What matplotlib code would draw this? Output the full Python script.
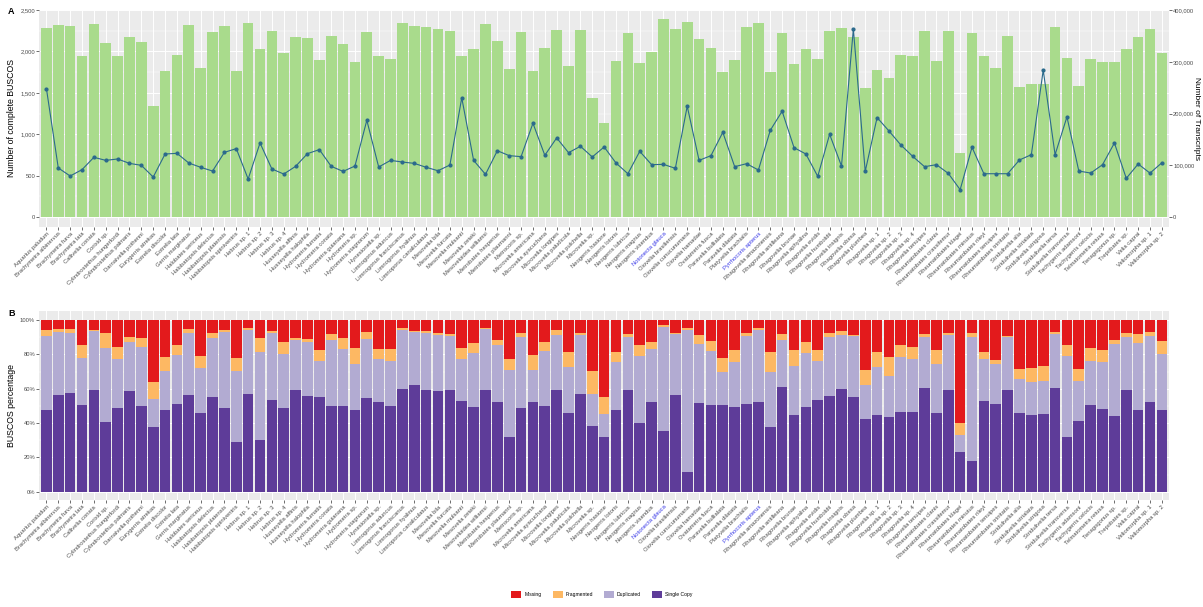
import numpy as np
import matplotlib.pyplot as plt
from matplotlib.patches import Patch
from matplotlib.ticker import FuncFormatter

# species (x categories)
species = [
    "Aquarius paludum", "Brachymetra albinervus", "Brachymetra furva", "Brachymetra lata",
    "Callivelia conata", "Corixid sp.", "Cylindrostethus hungerfordi", "Cylindrostethus palmaris",
    "Darnaivelia pothenni", "Eurygerris atrekas", "Eotrelia discolor", "Eotrelia lata",
    "Gerris marginatus", "Halobates sericeus", "Halobatopsis delectus", "Halobatopsis platensis",
    "Halobatopsis spiniventris", "Hebrus sp. 1", "Hebrus sp. 2", "Hebrus sp. 3", "Hebrus sp. 4",
    "Husseyella affinis", "Husseyella halophila", "Hydrometra fumatis", "Hydrometra conata",
    "Hydrometra guianana", "Hydrometra sp.", "Hydrometra stagnorum", "Hynesionella sp.",
    "Limnogonus aduncus", "Limnogonus franciscanus", "Limnogonus hyalinus",
    "Limnoporus canaliculatus", "Mesovelia bila", "Mesovelia furcata", "Mesovelia mulsanti",
    "Mesovelia zeteki", "Mesoveloidea williamsi", "Metrobates hesperius", "Metrobates plaumanni",
    "Metrocoris sp.", "Microvelia americana", "Microvelia ayacuchana", "Microvelia longipes",
    "Microvelia paludicola", "Microvelia pulchella", "Microvelia sp.", "Neogerris hasione",
    "Neogerris lotoris", "Neogerris lubricus", "Neogerris magnus", "Neogerris visendus",
    "Notonecta glauca", "Oiovelia brasiliensis", "Oiovelia cunucunumana", "Oiovelia hamadae",
    "Ovatametra fusca", "Paravelia bullialata", "Paravelia dilatata", "Platyvelia brachialis",
    "Pyrrhocoris apterus", "Rhagovelia amazonensis", "Rhagovelia antilleana", "Rhagovelia brunae",
    "Rhagovelia aphyalina", "Rhagovelia evidis", "Rhagovelia humboldti", "Rhagovelia insignis",
    "Rhagovelia obesa", "Rhagovelia plumbea", "Rhagovelia sp. 1", "Rhagovelia sp. 2",
    "Rhagovelia sp. 3", "Rhagovelia sp. 4", "Rhagovelia tenuipes", "Rheumatobates clanis",
    "Rheumatobates crassifemur", "Rheumatobates klagei", "Rheumatobates minutus",
    "Rheumatobates rileyi", "Rheumatobates tenuipes", "Rheumatobates trinitatis",
    "Stridulivelia alia", "Stridulivelia strialata", "Stridulivelia strigosa", "Stridulivelia tersa",
    "Stridulivelia transversa", "Tachygerris adamsoni", "Tachygerris celocis",
    "Telmatometra retusa", "Tenagogonus sp.", "Trepobates sp.", "Velia caprai",
    "Veliomorpha sp. 1", "Veliomorpha sp. 2",
]
outgroups = ["Notonecta glauca", "Pyrrhocoris apterus"]

# number of complete BUSCOs
buscos = [
    2278, 2318, 2306, 1948, 2331, 2097, 1944, 2169, 2113, 1339, 1762, 1956, 2315, 1806, 2238,
    2306, 1766, 2347, 2032, 2246, 1980, 2173, 2157, 1895, 2190, 2089, 1867, 2230, 1940, 1907,
    2347, 2302, 2290, 2266, 2246, 1948, 2024, 2335, 2121, 1786, 2238, 1762, 2044, 2262, 1823,
    2262, 1440, 1141, 1883, 2226, 1855, 1988, 2387, 2274, 2355, 2149, 2036, 1750, 1895, 2298,
    2347, 1750, 2226, 1843, 2028, 1903, 2250, 2278, 2177, 1556, 1782, 1685, 1956, 1944, 2250,
    1883, 2246, 774, 2226, 1944, 1806, 2190, 1565, 1605, 1613, 2290, 1919, 1581, 1911, 1867,
    1867, 2028, 2177, 2266, 1980,
]

# number of transcripts
transcripts = [
    248300, 94900, 79400, 91700, 115500, 109600, 112300, 103800, 100000, 77400, 121900, 123200,
    104500, 96200, 89000, 125100, 132300, 73600, 143200, 93000, 83200, 98100, 122600, 130400,
    98100, 88300, 98700, 187000, 96800, 109600, 106400, 103800, 96200, 89600, 100600, 230400,
    109600, 82600, 128300, 118700, 116800, 181300, 119400, 153000, 124500, 136800, 116200,
    135500, 104500, 83800, 127000, 101300, 101900, 94200, 214200, 109600, 118700, 163800,
    97400, 103200, 91000, 167700, 204500, 134200, 121900, 78700, 160000, 98700, 363200, 88300,
    192300, 166400, 139400, 117400, 97400, 101300, 84500, 53000, 134900, 83800, 83800, 83800,
    110400, 120600, 283800, 120600, 193600, 89000, 85100, 101300, 143200, 74900, 102600,
    85000, 105000,
]

# BUSCO percentages
single = [
    47.5, 56.6, 57.7, 50.4, 59.1, 40.6, 49.0, 58.5, 49.9, 37.4, 47.6, 51.1, 56.5, 45.9, 54.9,
    48.8, 28.9, 57.0, 30.1, 53.3, 48.6, 59.0, 55.5, 55.1, 50.0, 50.0, 47.3, 54.5, 52.5, 50.2,
    60.0, 61.9, 59.0, 58.4, 59.4, 52.7, 49.6, 59.0, 52.3, 31.6, 48.6, 52.3, 50.0, 59.0, 45.7,
    56.8, 38.5, 31.6, 47.3, 59.4, 39.8, 52.1, 35.5, 56.3, 11.5, 51.6, 50.6, 50.6, 49.2, 51.2,
    52.1, 37.9, 60.9, 44.7, 49.2, 53.5, 55.7, 60.0, 55.1, 42.4, 44.7, 43.4, 46.7, 46.5, 60.2,
    45.7, 59.4, 23.0, 18.0, 53.1, 51.2, 59.4, 45.7, 44.9, 45.3, 60.5, 31.6, 41.4, 50.6, 48.2,
    44.3, 59.0, 47.7, 52.5, 47.8,
]
duplicated = [
    43.4, 36.5, 34.5, 27.2, 34.2, 42.8, 28.3, 28.4, 34.6, 16.6, 22.8, 28.5, 36.1, 26.2, 34.8,
    44.3, 41.2, 37.1, 51.4, 39.3, 31.6, 29.3, 31.6, 20.9, 38.3, 33.2, 27.3, 34.6, 24.6, 26.2,
    34.1, 30.9, 33.6, 33.0, 31.3, 24.8, 31.3, 35.5, 33.0, 39.5, 41.6, 18.4, 32.0, 32.2, 27.0,
    34.2, 18.6, 13.7, 28.3, 30.5, 39.1, 31.2, 60.2, 35.4, 82.6, 34.4, 31.2, 19.3, 26.4, 39.6,
    42.0, 31.8, 27.7, 28.7, 31.8, 22.7, 34.6, 31.4, 35.5, 19.5, 27.9, 23.8, 31.8, 30.5, 29.7,
    28.9, 31.6, 10.0, 71.9, 24.2, 23.0, 30.5, 20.1, 18.9, 18.9, 31.1, 47.3, 22.9, 25.6, 27.3,
    41.6, 31.2, 38.7, 38.0, 32.2,
]
fragmented = [
    3.0, 1.5, 2.4, 7.7, 0.9, 9.2, 7.0, 3.3, 5.3, 10.1, 7.8, 5.8, 2.0, 7.2, 2.5, 1.0, 8.0, 1.0,
    7.8, 1.2, 6.8, 1.4, 2.0, 6.4, 3.5, 6.6, 9.2, 3.9, 5.9, 6.6, 1.0, 0.8, 0.8, 0.8, 1.0, 5.9,
    5.9, 1.0, 2.9, 6.4, 2.0, 8.8, 5.1, 2.7, 8.6, 1.2, 13.3, 9.8, 5.9, 1.8, 6.4, 4.1, 1.4, 1.0,
    1.0, 5.3, 5.7, 8.0, 7.2, 1.4, 1.0, 11.7, 3.3, 9.0, 6.1, 6.2, 2.0, 2.0, 0.6, 9.2, 8.8, 11.3,
    7.0, 7.0, 2.0, 8.2, 1.2, 7.0, 2.3, 4.3, 2.3, 1.0, 5.9, 8.2, 8.8, 1.6, 6.4, 7.4, 7.2, 6.8,
    2.7, 2.0, 5.5, 2.5, 7.5,
]
missing = [
    6.1, 5.4, 5.4, 14.7, 5.8, 7.4, 15.7, 9.8, 10.2, 35.9, 21.8, 14.6, 5.4, 20.7, 7.8, 5.9, 21.9,
    4.9, 10.7, 6.2, 13.0, 10.3, 10.9, 17.6, 8.2, 10.2, 16.2, 7.0, 17.0, 17.0, 4.9, 6.4, 6.6,
    7.8, 8.3, 16.6, 13.2, 4.5, 11.8, 22.5, 7.8, 20.5, 12.9, 6.1, 18.7, 7.8, 29.6, 44.9, 18.5,
    8.3, 14.7, 12.6, 2.9, 7.3, 4.9, 8.7, 12.5, 22.1, 17.2, 7.8, 4.9, 18.6, 8.1, 17.6, 12.9,
    17.6, 7.7, 6.6, 8.8, 28.9, 18.6, 21.5, 14.5, 16.0, 8.1, 17.2, 7.8, 60.0, 7.8, 18.4, 23.5,
    9.1, 28.3, 28.0, 27.0, 6.8, 14.7, 28.3, 16.6, 17.7, 11.4, 7.8, 8.1, 7.0, 12.5,
]

plt.rcParams['font.family'] = ['Liberation Sans', 'DejaVu Sans']

green = '#A9DB8C'
line_col = '#2B6A8C'
cols = {'Missing': '#E31A1C', 'Fragmented': '#FDB863',
        'Duplicated': '#B2ABD2', 'Single Copy': '#5E3C99'}
txt = '#4D4D4D'

W, H = 1203, 607
fig = plt.figure(figsize=(W / 100, H / 100), dpi=100)
left, right = 39.3, 1169
axA = fig.add_axes([left / W, 1 - 227 / H, (right - left) / W, (227 - 9.5) / H])
axB = fig.add_axes([left / W, 1 - 500.3 / H, (right - left) / W, (500.3 - 311.4) / H])

x = np.arange(len(species))


def gg_style(ax):
    ax.set_facecolor('#EBEBEB')
    for s in ax.spines.values():
        s.set_visible(False)
    ax.set_axisbelow(True)
    ax.grid(which='major', color='white', linewidth=0.7)
    ax.grid(which='minor', axis='y', color='white', linewidth=0.35)
    ax.tick_params(which='major', length=2, width=0.5, color='#333333',
                   labelcolor=txt, labelsize=4.2, pad=1)
    ax.tick_params(which='minor', length=0)
    ax.set_xlim(-0.6, len(species) - 0.4)
    ax.set_xticks(x)
    ax.set_xticklabels(species, rotation=45, ha='right', va='top',
                       rotation_mode='anchor', fontsize=4.2)
    for lab in ax.get_xticklabels():
        if lab.get_text() in outgroups:
            lab.set_color('#3A3AE8')


# panel A
gg_style(axA)
ylo, yhi = -0.05 * max(buscos), 1.05 * max(buscos)
axA.set_ylim(ylo, yhi)
axA.bar(x, buscos, width=0.9, color=green, zorder=2)
axA.set_yticks([0, 500, 1000, 1500, 2000, 2500])
axA.set_yticks([250, 750, 1250, 1750, 2250], minor=True)
axA.yaxis.set_major_formatter(FuncFormatter(lambda v, p: f"{int(v):,}"))
axA.set_ylabel("Number of complete BUSCOS", fontsize=6.3, color='black', labelpad=3)

ax2 = axA.twinx()
ax2.set_ylim(ylo * 160, yhi * 160)
for s in ax2.spines.values():
    s.set_visible(False)
ax2.plot(x, transcripts, color=line_col, linewidth=0.8, marker='o', markersize=2, zorder=3)
ax2.set_yticks([0, 100000, 200000, 300000, 400000])
ax2.yaxis.set_major_formatter(FuncFormatter(lambda v, p: f"{int(v):,}"))
ax2.tick_params(length=2, width=0.5, color='#333333', labelcolor=txt, labelsize=4.2, pad=1)
ax2.set_ylabel("Number of Transcripts", fontsize=6, color='black', rotation=270, labelpad=4)

# panel B
gg_style(axB)
axB.set_ylim(-5, 105)
bottom = np.zeros(len(species))
for name, vals in [('Single Copy', single), ('Duplicated', duplicated),
                   ('Fragmented', fragmented), ('Missing', missing)]:
    axB.bar(x, vals, bottom=bottom, width=0.9, color=cols[name], zorder=2)
    bottom += np.array(vals)
axB.set_yticks([0, 20, 40, 60, 80, 100])
axB.set_yticks([10, 30, 50, 70, 90], minor=True)
axB.yaxis.set_major_formatter(FuncFormatter(lambda v, p: f"{int(v)}%"))
axB.set_ylabel("BUSCOS percentage", fontsize=6.3, color='black', labelpad=3)

fig.text(8 / W, 1 - 11 / H, "A", fontsize=6.5, fontweight='bold', va='center')
fig.text(8 / W, 1 - 313 / H, "B", fontsize=6.5, fontweight='bold', va='center')

handles = [Patch(facecolor=cols[k], label=k) for k in ['Missing', 'Fragmented', 'Duplicated', 'Single Copy']]
fig.legend(handles=handles, loc='center', bbox_to_anchor=(602 / W, 1 - 594.5 / H), ncol=4,
           frameon=False, fontsize=3.6, handlelength=2.0, handleheight=2.0,
           columnspacing=2.2, handletextpad=0.6, labelcolor='black')

fig.savefig("out.png", dpi=100)
